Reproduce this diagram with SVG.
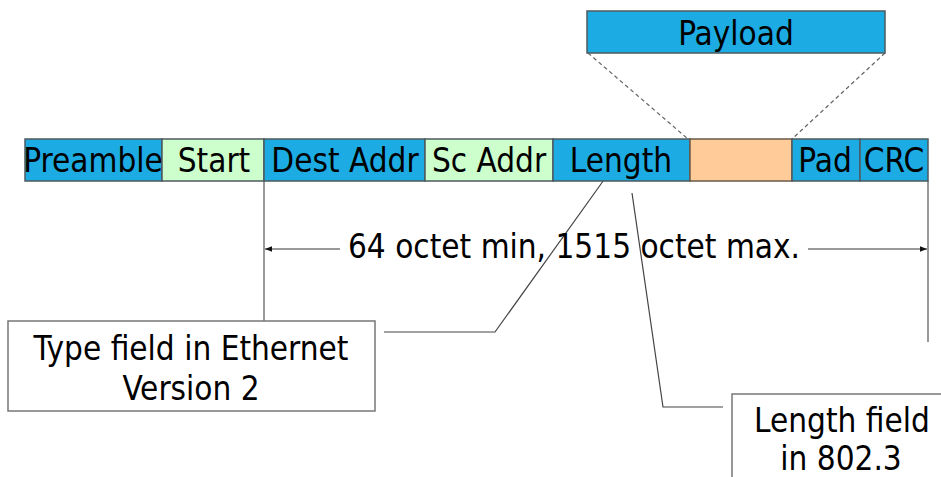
<svg xmlns="http://www.w3.org/2000/svg" width="941" height="477" viewBox="0 0 941 477">
<style>
text{font-family:"DejaVu Sans Condensed","DejaVu Sans",sans-serif;font-size:33px;fill:#000;text-anchor:middle}
.b{fill:#1CACE3;stroke:#4d5a60;stroke-width:1.5}
.g{fill:#CCFFCC;stroke:#4d5a60;stroke-width:1.5}
.o{fill:#FFCC99;stroke:#6a5a4a;stroke-width:1.5}
.w{fill:#fff;stroke:#777;stroke-width:1.5}
.ln{fill:none;stroke:#777;stroke-width:1.5}
.dk{fill:none;stroke:#444;stroke-width:1.2}
.da{fill:none;stroke:#666;stroke-width:1.2;stroke-dasharray:4 3}
</style>
<defs>
<marker id="ah" viewBox="0 0 10 10" refX="10" refY="5" markerWidth="7" markerHeight="7" orient="auto-start-reverse" markerUnits="userSpaceOnUse">
<path d="M0,1 L10,5 L0,9 z" fill="#111"/>
</marker>
</defs>
<g id="connectors">
<line class="da" x1="588" y1="53" x2="688" y2="139"/>
<line class="da" x1="885" y1="53" x2="792" y2="139"/>
<line class="ln" x1="264" y1="181" x2="264" y2="321"/>
<line class="ln" x1="928" y1="181" x2="928" y2="342"/>
<line class="ln" x1="340" y1="249" x2="265" y2="249" marker-end="url(#ah)"/>
<line class="ln" x1="808" y1="249" x2="927" y2="249" marker-end="url(#ah)"/>
<polyline class="dk" points="606,177 495,332 384,332"/>
<polyline class="dk" points="632,193 663,407 723,407"/>
</g>
<g id="payload"><rect class="b" x="587" y="11" width="298" height="42"/><text x="736" y="45">Payload</text></g>
<g id="preamble"><rect class="b" x="25" y="139" width="137" height="42"/><text x="93" y="172">Preamble</text></g>
<g id="start"><rect class="g" x="162" y="139" width="102" height="42"/><text x="214" y="172">Start</text></g>
<g id="dest"><rect class="b" x="264" y="139" width="161" height="42"/><text x="345" y="172">Dest Addr</text></g>
<g id="src"><rect class="g" x="425" y="139" width="128" height="42"/><text x="489" y="172">Sc Addr</text></g>
<g id="length"><rect class="b" x="553" y="139" width="137" height="42"/><text x="621" y="172">Length</text></g>
<g id="data"><rect class="o" x="690" y="139" width="102" height="42"/></g>
<g id="pad"><rect class="b" x="792" y="139" width="68" height="42"/><text x="825" y="172">Pad</text></g>
<g id="crc"><rect class="b" x="860" y="139" width="68" height="42"/><text x="894" y="172">CRC</text></g>
<g id="range"><text x="574" y="258">64 octet min, 1515 octet max.</text></g>
<g id="typefield"><rect class="w" x="8" y="321" width="367" height="90"/><text x="191" y="360">Type field in Ethernet</text><text x="191" y="400">Version 2</text></g>
<g id="lengthfield"><rect class="w" x="732" y="394" width="230" height="110"/><text x="842" y="432">Length field</text><text x="841" y="470">in 802.3</text></g>
</svg>
